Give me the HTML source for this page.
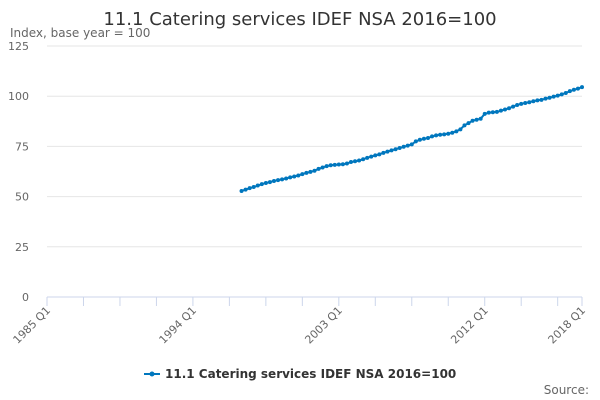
<!DOCTYPE html>
<html><head><meta charset="utf-8"><style>
body{margin:0;background:#fff;font-family:"DejaVu Sans","Liberation Sans",sans-serif;}
svg{display:block}
</style></head><body>
<svg id="chart" width="600" height="400">
<text x="300" y="25" text-anchor="middle" font-size="18" fill="#333">11.1 Catering services IDEF NSA 2016=100</text>
<text x="10" y="37" font-size="12" fill="#666">Index, base year = 100</text>
<g id="grid"></g><g id="xaxis"></g><g id="series"></g>
<g>
<line x1="144" y1="374" x2="160" y2="374" stroke="#0077be" stroke-width="2"/>
<circle cx="152" cy="374" r="2.5" fill="#0077be"/>
<text x="165" y="378" font-size="12" font-weight="bold" fill="#333">11.1 Catering services IDEF NSA 2016=100</text>
</g>
<text x="589" y="394" text-anchor="end" font-size="12" fill="#666">Source:</text>
</svg>
<script>
const startYear = 1997;
const values = [52.8,53.5,54.2,54.8, 55.5,56.2,56.8,57.2, 57.8,58.2,58.6,59.0, 59.6,60.0,60.5,61.2,
61.8,62.3,62.9,63.8, 64.5,65.2,65.6,65.8, 66.0,66.1,66.5,67.2, 67.6,68.0,68.6,69.3,
69.9,70.5,71.0,71.8, 72.4,73.0,73.6,74.2, 74.8,75.4,76.0,77.5, 78.3,78.8,79.2,80.0,
80.5,80.8,81.0,81.3, 81.8,82.5,83.5,85.5, 86.6,87.8,88.3,88.8, 91.2,91.8,92.0,92.2,
92.8,93.4,94.0,94.8, 95.6,96.2,96.6,97.0, 97.5,97.9,98.2,98.8, 99.2,99.8,100.3,100.9,
101.6,102.5,103.2,103.8, 104.5];
const yTicks = [0,25,50,75,100,125];
const xLabels = ["1985 Q1","1994 Q1","2003 Q1","2012 Q1","2018 Q1"];
const NS="http://www.w3.org/2000/svg";
const x0=47,x1=582,nQ=132,yb=297,yt=46,ymax=125;
const X=q=>x0+(x1-x0)*q/nQ;
const Y=v=>yb-(yb-yt)*v/ymax;
const qIdx=l=>{const p=l.split(" Q");return (parseInt(p[0])-1985)*4+parseInt(p[1])-1;};
function mk(t,a,parent){const e=document.createElementNS(NS,t);for(const k in a)e.setAttribute(k,a[k]);parent.appendChild(e);return e;}
const grid=document.getElementById("grid");
yTicks.forEach(v=>{
  if(v>0){const g=mk("line",{x1:x0,x2:x1,y1:Y(v),y2:Y(v),stroke:"#e6e6e6"},grid);
  
  }
  const t=mk("text",{x:29,y:Y(v)+4,"text-anchor":"end","font-size":11,fill:"#666"},grid);
  t.textContent=v;
  
  
});
const xa=document.getElementById("xaxis");
const ax=mk("line",{x1:x0,x2:x1,y1:yb,y2:yb,stroke:"#ccd6eb"},xa);


for(let q=0;q<=nQ;q+=9){
  const tk=mk("line",{x1:X(q),x2:X(q),y1:yb,y2:yb+9,stroke:"#ccd6eb"},xa);
  
  
}
mk("line",{x1:X(nQ),x2:X(nQ),y1:yb,y2:yb+9,stroke:"#ccd6eb"},xa);
xLabels.forEach(l=>{
  const x=X(qIdx(l))+4,y=yb+14;
  const t=mk("text",{x:x,y:y,"text-anchor":"end","font-size":11,fill:"#666",transform:`rotate(-45 ${x} ${y})`},xa);
  t.textContent=l;
  
  
});
const s=document.getElementById("series");
const off=(startYear-1985)*4;
const pts=values.map((v,i)=>X(off+i).toFixed(1)+","+Y(v).toFixed(1)).join(" ");
const pl=mk("polyline",{points:pts,fill:"none",stroke:"#0077be","stroke-width":2},s);


values.forEach((v,i)=>{
  const c=mk("circle",{cx:X(off+i),cy:Y(v),r:2,fill:"#0077be"},s);
  
  
});
</script>
</body></html>
